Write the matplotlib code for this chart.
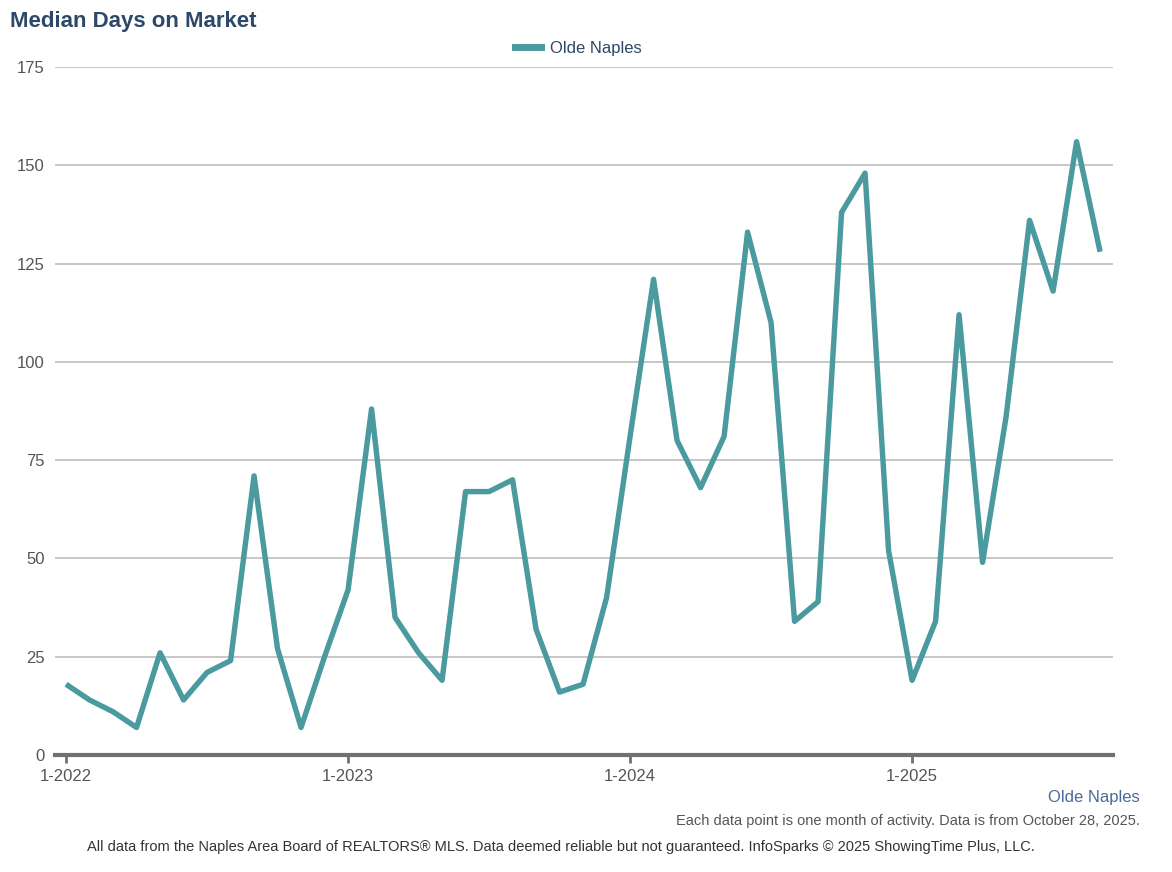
import matplotlib
matplotlib.use("Agg")
import matplotlib.pyplot as plt
from matplotlib.lines import Line2D

plt.rcParams['font.family'] = ['Liberation Sans', 'DejaVu Sans']

series_name = "Olde Naples"
values = [18, 14, 11, 7, 26, 14, 21, 24, 71, 27, 7, 25,
          42, 88, 35, 26, 19, 67, 67, 70, 32, 16, 18, 40,
          81, 121, 80, 68, 81, 133, 110, 34, 39, 138, 148, 52,
          19, 34, 112, 49, 86, 136, 118, 156, 128]
tick_labels = ["1-2022", "1-2023", "1-2024", "1-2025"]
tick_pos = [0, 12, 24, 36]
y_ticks = [0, 25, 50, 75, 100, 125, 150, 175]

W, H = 1172, 872
fig = plt.figure(figsize=(W/100, H/100), dpi=100)
ax = fig.add_axes([55/W, 1-755/H, (1113-55)/W, (755-67)/H])

line_color = "#4a9aa0"
x = list(range(len(values)))
ax.plot(x, values, color=line_color, lw=3.9, solid_joinstyle='round', solid_capstyle='butt', zorder=3)

ax.set_xlim(-0.47, 44.55)
ax.set_ylim(0, 175)
ax.set_yticks(y_ticks)
ax.set_yticklabels([str(v) for v in y_ticks])
ax.set_xticks(tick_pos)
ax.set_xticklabels(tick_labels)
ax.grid(axis='y', color='#bdbdbd', lw=1.2, zorder=1)
ax.set_axisbelow(True)
for s in ['top', 'right', 'left']:
    ax.spines[s].set_visible(False)
ax.spines['bottom'].set_color('#707070')
ax.spines['bottom'].set_linewidth(3)
ax.spines['bottom'].set_zorder(4)
ax.tick_params(axis='y', length=0, labelsize=12, labelcolor='#555555', pad=7.5)
ax.tick_params(axis='x', length=6, width=2, color='#707070', labelsize=12, labelcolor='#555555', pad=4)

fig.text(10/W, 1-22/H, "Median Days on Market", fontsize=16, fontweight='bold', color='#2d4868', va='center', ha='left')

handle = Line2D([0], [0], color=line_color, lw=5)
fig.legend([handle], [series_name], loc='center', bbox_to_anchor=(578/W, 1-48/H), frameon=False,
           fontsize=12, labelcolor='#2d4868', handlelength=1.6, handletextpad=0.5)

fig.text(1140/W, 1-797/H, "Olde Naples", fontsize=12, color='#4a6a9a', ha='right', va='center')
fig.text(1140/W, 1-821/H, "Each data point is one month of activity. Data is from October 28, 2025.",
         fontsize=10.5, color='#555555', ha='right', va='center')
fig.text(561/W, 1-847/H, "All data from the Naples Area Board of REALTORS\u00ae MLS. Data deemed reliable but not guaranteed. InfoSparks \u00a9 2025 ShowingTime Plus, LLC.",
         fontsize=10.5, color='#333333', ha='center', va='center')

fig.savefig("out.png", dpi=100)
